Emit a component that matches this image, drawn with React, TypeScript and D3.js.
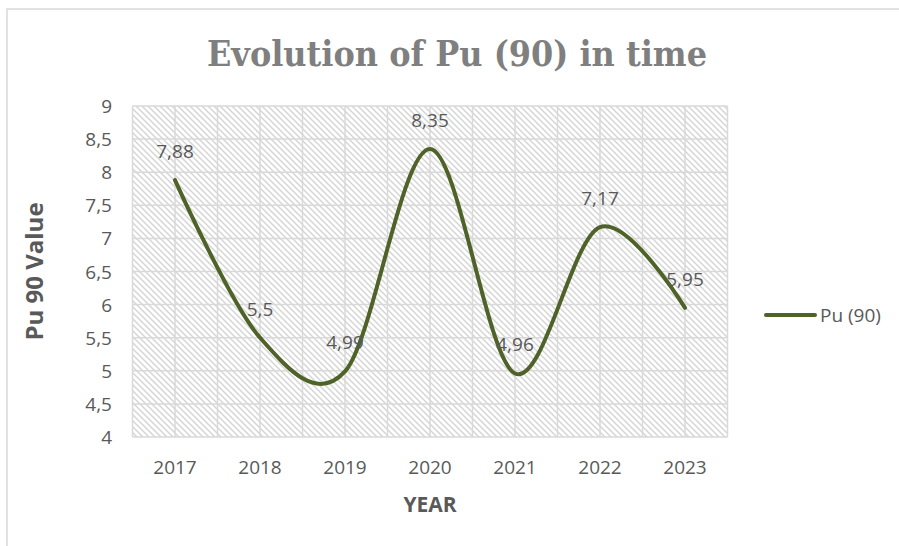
import React from 'react';
import * as d3 from 'd3';

const years = ['2017', '2018', '2019', '2020', '2021', '2022', '2023'];
const puValues = [7.88, 5.5, 4.99, 8.35, 4.96, 7.17, 5.95];
const yTicks = [4, 4.5, 5, 5.5, 6, 6.5, 7, 7.5, 8, 8.5, 9];
const seriesName = 'Pu (90)';
const chartTitle = 'Evolution of Pu (90) in time';
const xTitle = 'YEAR';
const yTitle = 'Pu 90 Value';

export default function App() {
  const W = 899, H = 546;
  const left = 132.5, right = 727.5, top = 106, bottom = 437;
  const x = d3.scaleBand<string>().domain(years).range([left, right]).padding(0);
  const y = d3.scaleLinear().domain([4, 9]).range([bottom, top]);
  const cx = (i: number) => (x(years[i]) as number) + x.bandwidth() / 2;
  const fmt = (v: number) => String(v).replace('.', ',');
  const line = d3.line<number>()
    .x((_, i) => cx(i))
    .y(d => y(d))
    .curve(d3.curveCardinal.tension(0));
  const half = x.bandwidth() / 2;
  const vlines = d3.range(0, years.length * 2 + 1).map(k => left + k * half);
  const grid = '#d9d9d9';
  const txt = '#595959';
  const font = "'Open Sans', sans-serif";

  return (
    <svg width={W} height={H} style={{ position: 'absolute', left: 0, top: 0, background: '#fff' }}>
      <defs>
        <pattern id="hatch" patternUnits="userSpaceOnUse" width={6} height={6}>
          <rect width={6} height={6} fill="#ffffff" />
          <path d="M-1,-1 L7,7 M-4,2 L2,8 M4,-2 L10,4" stroke="#d4d4d4" strokeWidth={1.4} />
        </pattern>
      </defs>
      <rect x={0} y={0} width={W} height={H} fill="#fff" />
      <rect x={7} y={9} width={W + 20} height={H + 20} fill="none" stroke={grid} strokeWidth={1.5} />

      <text x={457} y={66} textAnchor="middle" fontFamily="'DejaVu Serif', serif" fontWeight="bold"
        fontSize={36} fill="#7f7f7f" textLength={500} lengthAdjust="spacingAndGlyphs">{chartTitle}</text>

      <rect x={left} y={top} width={right - left} height={bottom - top} fill="url(#hatch)" />
      {yTicks.map(t => (
        <line key={'h' + t} x1={left} x2={right} y1={y(t)} y2={y(t)} stroke={grid} strokeWidth={1.5} />
      ))}
      {vlines.map((v, i) => (
        <line key={'v' + i} x1={v} x2={v} y1={top} y2={bottom} stroke={grid} strokeWidth={1.5} />
      ))}

      {yTicks.map(t => (
        <text key={'yt' + t} x={112} y={y(t) + 7} textAnchor="end" fontFamily={font} fontSize={19} fill={txt}>{fmt(t)}</text>
      ))}
      {years.map((yr, i) => (
        <text key={'xt' + yr} x={cx(i)} y={474} textAnchor="middle" fontFamily={font} fontSize={19} fill={txt}>{yr}</text>
      ))}

      <path d={line(puValues) || ''} fill="none" stroke="#4f6228" strokeWidth={4} strokeLinecap="round" />

      {puValues.map((v, i) => (
        <text key={'dl' + i} x={cx(i)} y={y(v) - 22} textAnchor="middle" fontFamily={font} fontSize={19} fill={txt}>{fmt(v)}</text>
      ))}

      <text x={430} y={512} textAnchor="middle" fontFamily={font} fontWeight="bold" fontSize={21} fill={txt}>{xTitle}</text>
      <text transform={`translate(43,${(top + bottom) / 2}) rotate(-90)`} textAnchor="middle" fontFamily={font}
        fontWeight="bold" fontSize={24} fill={txt}>{yTitle}</text>

      <line x1={766} x2={815} y1={315} y2={315} stroke="#4f6228" strokeWidth={4} strokeLinecap="round" />
      <text x={820} y={322} fontFamily={font} fontSize={19} fill={txt}>{seriesName}</text>
    </svg>
  );
}
